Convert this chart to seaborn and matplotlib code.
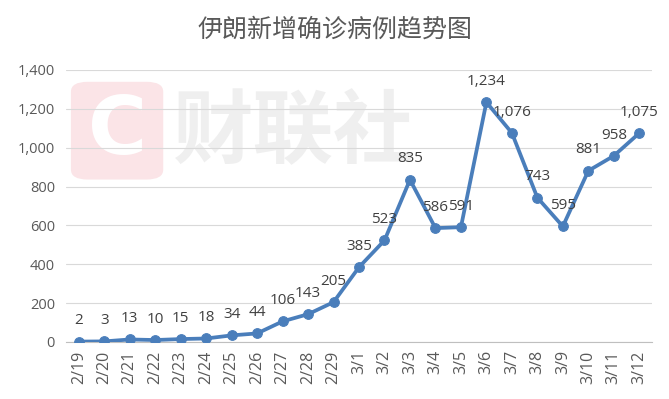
import numpy as np
import pandas as pd
import matplotlib.pyplot as plt
import seaborn as sns
from matplotlib.patches import FancyBboxPatch

# data
dates = ['2/19', '2/20', '2/21', '2/22', '2/23', '2/24', '2/25', '2/26', '2/27', '2/28', '2/29',
         '3/1', '3/2', '3/3', '3/4', '3/5', '3/6', '3/7', '3/8', '3/9', '3/10', '3/11', '3/12']
new_cases = [2, 3, 13, 10, 15, 18, 34, 44, 106, 143, 205,
             385, 523, 835, 586, 591, 1234, 1076, 743, 595, 881, 958, 1075]
y_ticks = [0, 200, 400, 600, 800, 1000, 1200, 1400]

df = pd.DataFrame({'pos': np.arange(len(dates)), 'date': dates, 'cases': new_cases})

sns.set_theme(style='white')
plt.rcParams['font.family'] = ['Open Sans', 'Noto Sans CJK SC', 'DejaVu Sans']

text_col = '#595959'
line_col = '#4A7EBB'

fig = plt.figure(figsize=(6.69, 3.99), dpi=100)
ax = fig.add_axes([0.0987, 0.1429, 0.8759, 0.6817])

# watermark (logo behind the plot)
fig.patches.append(FancyBboxPatch((0.106, 0.55), 0.138, 0.245, boxstyle='round,pad=0,rounding_size=0.025',
                                  transform=fig.transFigure, facecolor='#FBE4E7', edgecolor='none', zorder=-2))
fig.text(0.175, 0.67, 'C', fontsize=58, fontweight='bold', color='white', ha='center', va='center',
         family=['DejaVu Sans'], zorder=-1)
fig.text(0.258, 0.665, '财联社', fontsize=58, fontweight='bold', color='#EFEFEF', ha='left', va='center',
         family=['Noto Sans CJK SC'], zorder=-1)
ax.set_facecolor('none')

sns.lineplot(data=df, x='pos', y='cases', ax=ax, color=line_col, linewidth=2.7,
             marker='o', markersize=7, markeredgecolor=line_col, zorder=3)

for p, v in zip(df['pos'], df['cases']):
    ax.annotate(f'{v:,}', (p, v), xytext=(0, 15), textcoords='offset points',
                ha='center', va='center', fontsize=11, color='#404040')

ax.set_xlim(-0.5, len(dates) - 0.5)
ax.set_ylim(0, 1400)
ax.set_yticks(y_ticks)
ax.set_yticklabels([f'{t:,}' for t in y_ticks], fontsize=10.5, color=text_col)
ax.set_xticks(df['pos'])
ax.set_xticklabels(dates, rotation=90, fontsize=11.5, color=text_col)
ax.set_xticks(np.arange(-0.5, len(dates)), minor=True)
ax.tick_params(axis='x', which='major', length=0, pad=6)
ax.tick_params(axis='x', which='minor', length=5, color='#BFBFBF', width=0.8, direction='out')
ax.tick_params(axis='y', length=0, pad=8)
ax.yaxis.grid(True, color='#D9D9D9', linewidth=0.8)
ax.set_axisbelow(True)
ax.set_xlabel('')
ax.set_ylabel('')
for s in ['left', 'right', 'top']:
    ax.spines[s].set_visible(False)
ax.spines['bottom'].set_color('#BFBFBF')
ax.spines['bottom'].set_linewidth(0.8)

fig.text(0.5, 0.925, '伊朗新增确诊病例趋势图', ha='center', va='center', fontsize=18,
         color=text_col, family=['Noto Sans CJK SC', 'DejaVu Sans'])

fig.savefig('out.png', dpi=100)
